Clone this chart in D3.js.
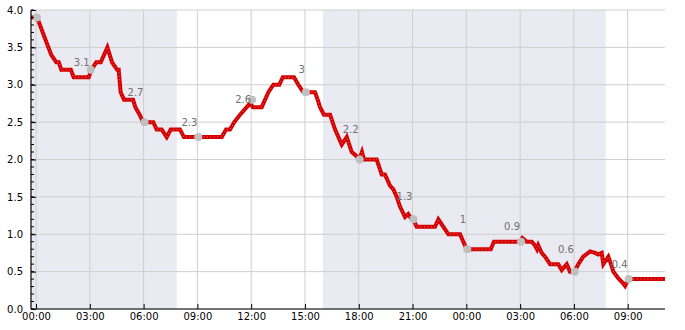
<!DOCTYPE html>
<html>
<head>
<meta charset="utf-8">
<script src="https://cdn.jsdelivr.net/npm/d3@7"></script>
<style>
  body { margin: 0; background: #fff; }
  text { font-family: "DejaVu Sans", sans-serif; }
</style>
</head>
<body>
<div id="chart"></div>
<script>
// hours since the first midnight, value in metres
const lineHours = [-0.28, 0.06, 0.85, 1.13, 1.27, 1.41, 1.94, 2.10, 2.94, 3.08, 3.36, 3.61, 3.98, 4.24, 4.53, 4.61, 4.72, 4.91,
  5.41, 5.54, 5.78, 5.97, 6.26, 6.54, 6.73, 7.01, 7.29, 7.51, 8.03, 8.25, 10.36, 10.60, 10.82, 11.06, 11.38, 11.75, 11.94,
  12.10, 12.59, 12.96, 13.24, 13.57, 13.76, 14.39, 14.63, 14.91, 15.56, 15.71, 15.84, 16.06, 16.40, 16.68, 17.05, 17.33,
  17.61, 17.85, 18.03, 18.18, 18.29, 18.53, 19.0, 19.28, 19.46, 19.74, 19.93, 20.12, 20.30, 20.58, 20.76, 20.95, 21.04,
  21.23, 22.25, 22.44, 22.72, 23.0, 23.65, 23.83, 24.02, 25.36, 25.54, 26.99, 27.12, 27.37, 27.65, 27.83, 27.94, 28.01,
  28.20, 28.39, 28.67, 29.13, 29.32, 29.60, 29.78, 30.02, 30.25, 30.52, 30.90, 31.18, 31.36, 31.55, 31.64, 31.92, 32.11,
  32.20, 32.48, 32.76, 32.85, 33.04, 35.08];
const lineValues = [3.9, 3.9, 3.4, 3.3, 3.3, 3.2, 3.2, 3.1, 3.1, 3.2, 3.3, 3.3, 3.5, 3.3, 3.2, 3.2, 2.9, 2.8,
  2.8, 2.7, 2.6, 2.5, 2.5, 2.5, 2.4, 2.4, 2.3, 2.4, 2.4, 2.3, 2.3, 2.4, 2.4, 2.5, 2.6, 2.7, 2.75,
  2.7, 2.7, 2.9, 3.0, 3.0, 3.1, 3.1, 3.0, 2.9, 2.9, 2.8, 2.7, 2.6, 2.6, 2.4, 2.2, 2.3,
  2.1, 2.05, 2.0, 2.1, 2.0, 2.0, 2.0, 1.8, 1.8, 1.65, 1.6, 1.5, 1.37, 1.23, 1.27, 1.2, 1.2,
  1.1, 1.1, 1.2, 1.1, 1.0, 1.0, 0.9, 0.8, 0.8, 0.9, 0.9, 0.95, 0.9, 0.9, 0.85, 0.8, 0.85,
  0.75, 0.7, 0.6, 0.6, 0.52, 0.6, 0.5, 0.5, 0.6, 0.7, 0.77, 0.75, 0.73, 0.75, 0.6, 0.7, 0.57,
  0.5, 0.41, 0.34, 0.31, 0.4, 0.4];

// 3-hourly observed points and the forecast labels drawn next to them
const pointHours = [0, 3, 6, 9, 12, 15, 18, 21, 24, 27, 30, 33];
const pointValues = [3.9, 3.2, 2.5, 2.3, 2.8, 2.9, 2.0, 1.2, 0.8, 0.9, 0.5, 0.4];
const pointLabels = [null, "3.1", "2.7", "2.3", "2.6", "3", "2.2", "1.3", "1", "0.9", "0.6", "0.4"];

// night shading [start, end] in hours
const nights = [[-0.28, 7.85], [16.0, 31.77]];

const xTicks = [0, 3, 6, 9, 12, 15, 18, 21, 24, 27, 30, 33];
const yTicks = [0, 0.5, 1.0, 1.5, 2.0, 2.5, 3.0, 3.5, 4.0];

const chartWidth = 685, chartHeight = 330;
const margin = { top: 10, right: 20, bottom: 21, left: 31 };
const width = chartWidth - margin.left - margin.right;
const height = chartHeight - margin.top - margin.bottom;

const base = new Date(2020, 0, 1, 0, 0);
const toDate = h => new Date(base.getTime() + h * 3600 * 1000);

const x = d3.scaleTime().domain([toDate(-0.28), toDate(35.08)]).range([0, width]);
const y = d3.scaleLinear().domain([0, 4]).range([height, 0]);

const svg = d3.select("#chart").append("svg")
  .attr("width", chartWidth)
  .attr("height", chartHeight);

const g = svg.append("g")
  .attr("transform", "translate(" + margin.left + "," + margin.top + ")");

svg.append("defs").append("clipPath").attr("id", "clip")
  .append("rect").attr("width", width).attr("height", height);

// night shading
g.selectAll(".night").data(nights).enter().append("rect")
  .attr("class", "night")
  .attr("x", d => x(toDate(d[0])))
  .attr("width", d => x(toDate(d[1])) - x(toDate(d[0])))
  .attr("y", 0)
  .attr("height", height)
  .attr("fill", "#eaeaf2");

// grid
g.append("g").selectAll("line").data(yTicks).enter().append("line")
  .attr("x1", 0).attr("x2", width)
  .attr("y1", d => y(d)).attr("y2", d => y(d))
  .attr("stroke", "#cfcfcf").attr("stroke-width", 1);
g.append("g").selectAll("line").data(xTicks).enter().append("line")
  .attr("x1", d => x(toDate(d))).attr("x2", d => x(toDate(d)))
  .attr("y1", 0).attr("y2", height)
  .attr("stroke", "#cfcfcf").attr("stroke-width", 1);

// water level line
const series = lineHours.map((h, i) => ({ t: toDate(h), v: lineValues[i] }));
const line = d3.line().x(d => x(d.t)).y(d => y(d.v));
const plot = g.append("g").attr("clip-path", "url(#clip)");
plot.append("path").datum(series)
  .attr("d", line)
  .attr("fill", "none")
  .attr("stroke", "#d40000")
  .attr("stroke-width", 4)
  .attr("stroke-linejoin", "miter");
plot.append("path").datum(series)
  .attr("d", line)
  .attr("fill", "none")
  .attr("stroke", "#f07070")
  .attr("stroke-width", 1)
  .attr("stroke-dasharray", "1,2.5");

// observed points and labels
const pts = pointHours.map((h, i) => ({ t: toDate(h + 0.05), v: pointValues[i], label: pointLabels[i] }));
plot.selectAll(".pt").data(pts).enter().append("circle")
  .attr("class", "pt")
  .attr("cx", d => x(d.t))
  .attr("cy", d => y(d.v))
  .attr("r", 4)
  .attr("fill", "#c0c0c0");
plot.selectAll(".lbl").data(pts.filter(d => d.label)).enter().append("text")
  .attr("class", "lbl")
  .attr("x", d => x(d.t) - 1)
  .attr("y", d => y(+d.label + 0.2))
  .attr("dy", "0.35em")
  .attr("text-anchor", "end")
  .attr("font-size", 10)
  .attr("fill", "#707070")
  .text(d => d.label);

// y axis with inward ticks
const yAxis = g.append("g")
  .call(d3.axisLeft(y).tickValues(yTicks).tickFormat(d3.format(".1f")).tickSize(-5).tickPadding(8));
yAxis.append("g").selectAll("line").data(d3.range(0, 41).map(i => i / 10)).enter().append("line")
  .attr("x1", 0).attr("x2", 3)
  .attr("y1", d => y(d)).attr("y2", d => y(d))
  .attr("stroke", "#000");

// x axis with inward ticks
const xAxis = g.append("g")
  .attr("transform", "translate(0," + height + ")")
  .call(d3.axisBottom(x).tickValues(xTicks.map(toDate)).tickFormat(d3.timeFormat("%H:%M")).tickSize(-5).tickPadding(4));

[yAxis, xAxis].forEach(a => {
  a.selectAll("text").attr("font-size", 10).attr("fill", "#000").attr("font-family", "DejaVu Sans, sans-serif");
  a.selectAll("line").attr("stroke", "#000");
  a.select(".domain").attr("stroke", "#000").attr("stroke-width", 1.2);
});
xAxis.select(".domain").attr("d", "M0,0H" + width);
yAxis.select(".domain").attr("d", "M0,0V" + height);
</script>
</body>
</html>
